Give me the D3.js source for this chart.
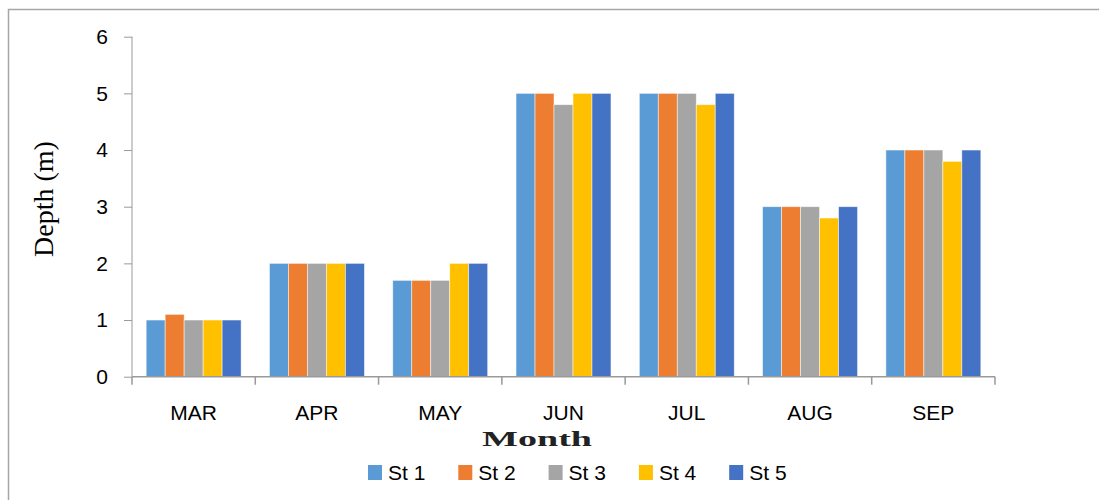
<!DOCTYPE html>
<html lang="en">
<head>
    <meta charset="utf-8">
    <title>depth</title>
    <script src="https://cdn.jsdelivr.net/npm/d3@7"></script>
    <style>
        body { margin: 0; background: #fff; }
        .tick text { font-family: "Liberation Sans", Arial, sans-serif; fill: #000; }
    </style>
</head>
<body>
<script type="text/javascript">
    var months = ['MAR', 'APR', 'MAY', 'JUN', 'JUL', 'AUG', 'SEP'];
    var stations = ['St 1', 'St 2', 'St 3', 'St 4', 'St 5'];
    var st1 = [1, 2, 1.7, 5, 5, 3, 4];
    var st2 = [1.1, 2, 1.7, 5, 5, 3, 4];
    var st3 = [1, 2, 1.7, 4.8, 5, 3, 4];
    var st4 = [1, 2, 2, 5, 4.8, 2.8, 3.8];
    var st5 = [1, 2, 2, 5, 5, 3, 4];
    var yTicks = [0, 1, 2, 3, 4, 5, 6];
    var colors = ['#5B9BD5', '#ED7D31', '#A5A5A5', '#FFC000', '#4472C4'];

    var series = [st1, st2, st3, st4, st5];
    var width = 1099, height = 500;
    var plotLeft = 132, plotRight = 995, plotTop = 36.7, plotBottom = 376.7;

    var svg = d3.select('body').append('svg')
        .attr('width', width)
        .attr('height', height);

    // outer frame (only top/left visible)
    svg.append('rect')
        .attr('x', 8.5).attr('y', 9.5)
        .attr('width', 1100).attr('height', 500)
        .attr('fill', 'none')
        .attr('stroke', '#A6A6A6')
        .attr('stroke-width', 1.5);

    var x0 = d3.scaleBand().domain(months).range([plotLeft, plotRight])
        .paddingInner(0.23).paddingOuter(0.115);
    var x1 = d3.scaleBand().domain(d3.range(stations.length)).range([0, x0.bandwidth()]);
    var y = d3.scaleLinear().domain([0, 6]).range([plotBottom, plotTop]);

    // bars
    var groups = svg.append('g').selectAll('g')
        .data(months)
        .enter().append('g')
        .attr('transform', function (d) { return 'translate(' + x0(d) + ',0)'; });

    groups.selectAll('rect')
        .data(function (d, i) { return series.map(function (s, k) { return { k: k, v: s[i] }; }); })
        .enter().append('rect')
        .attr('x', function (d) { return x1(d.k); })
        .attr('width', x1.bandwidth())
        .attr('y', function (d) { return y(d.v); })
        .attr('height', function (d) { return plotBottom - y(d.v); })
        .attr('fill', function (d) { return colors[d.k]; })
        .attr('stroke', '#fff')
        .attr('stroke-opacity', 0.6)
        .attr('stroke-width', 0.8);

    // y axis
    var yAxis = svg.append('g')
        .attr('transform', 'translate(' + plotLeft + ',0)')
        .call(d3.axisLeft(y).tickValues(yTicks).tickSize(8).tickPadding(16).tickFormat(d3.format('d')));
    yAxis.selectAll('text').style('font-size', '21px');
    yAxis.selectAll('line, path').attr('stroke', '#999');
    yAxis.select('.domain').attr('d', 'M0,' + plotBottom + 'V' + plotTop);

    // x axis with tick marks at category boundaries
    var xAxis = svg.append('g')
        .attr('transform', 'translate(0,' + plotBottom + ')');
    xAxis.append('line')
        .attr('x1', plotLeft).attr('x2', plotRight)
        .attr('stroke', '#999').attr('stroke-width', 1.5);
    var step = x0.step();
    xAxis.selectAll('.xt')
        .data(d3.range(months.length + 1))
        .enter().append('line')
        .attr('x1', function (d) { return plotLeft + d * step; })
        .attr('x2', function (d) { return plotLeft + d * step; })
        .attr('y1', 0).attr('y2', 8)
        .attr('stroke', '#999').attr('stroke-width', 1.5);
    xAxis.selectAll('.xl')
        .data(months)
        .enter().append('text')
        .attr('x', function (d) { return x0(d) + x0.bandwidth() / 2; })
        .attr('y', 43)
        .attr('text-anchor', 'middle')
        .style('font-family', '"Liberation Sans", Arial, sans-serif')
        .style('font-size', '21px')
        .text(function (d) { return d; });

    // axis titles
    svg.append('text')
        .attr('x', 537).attr('y', 446)
        .attr('text-anchor', 'middle')
        .attr('textLength', 110)
        .attr('lengthAdjust', 'spacingAndGlyphs')
        .style('font-family', '"Liberation Serif", "Times New Roman", serif')
        .style('font-size', '20px')
        .style('font-weight', 'bold')
        .style('fill', '#222')
        .text('Month');

    svg.append('text')
        .attr('transform', 'translate(53,199) rotate(-90)')
        .attr('text-anchor', 'middle')
        .style('font-family', '"Liberation Serif", "Times New Roman", serif')
        .style('font-size', '28px')
        .text('Depth (m)');

    // legend
    var legend = svg.append('g').selectAll('g')
        .data(stations)
        .enter().append('g')
        .attr('transform', function (d, i) { return 'translate(' + (368 + i * 90.3) + ',465)'; });
    legend.append('rect')
        .attr('width', 14).attr('height', 15)
        .attr('fill', function (d, i) { return colors[i]; });
    legend.append('text')
        .attr('x', 20).attr('y', 15)
        .style('font-family', '"Liberation Sans", Arial, sans-serif')
        .style('font-size', '21px')
        .text(function (d) { return d; });
</script>
</body>
</html>
